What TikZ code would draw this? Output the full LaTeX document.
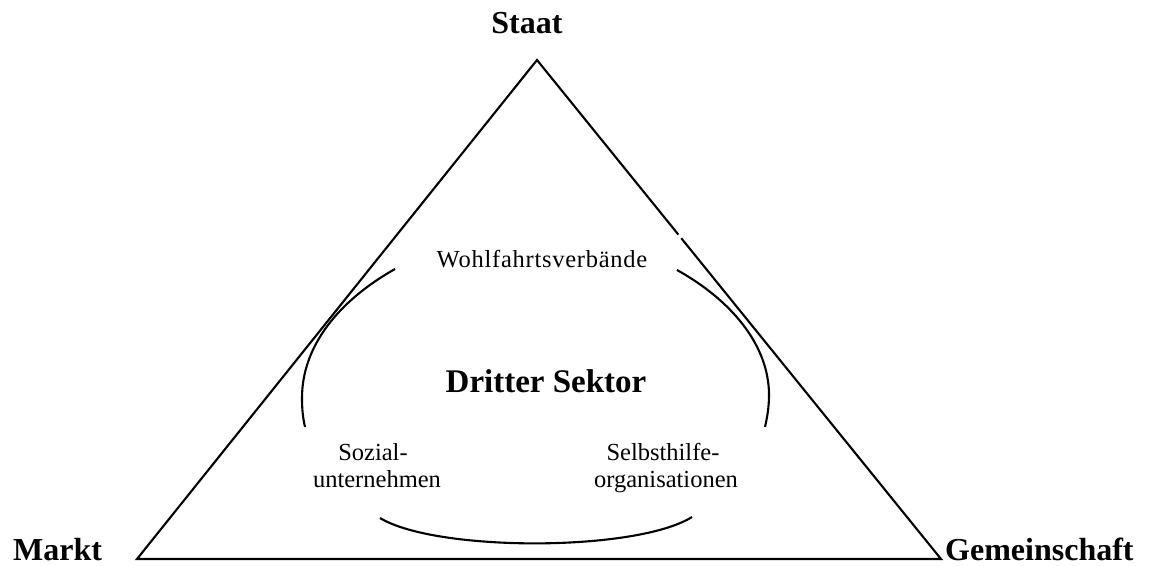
\documentclass[tikz,border=0pt]{standalone}
\usepackage{fontspec}
\setmainfont{Liberation Serif}
\usetikzlibrary{calc}
\begin{document}
\begin{tikzpicture}[x=1pt,y=-1pt,
  edge/.style={line width=2.1pt,line join=miter},
  arcline/.style={line width=2.1pt},
  corner/.style={inner sep=0pt,font=\fontsize{32}{38}\selectfont\bfseries},
  title/.style={inner sep=0pt,font=\fontsize{33}{40}\selectfont\bfseries},
  item/.style={inner sep=0pt,font=\fontsize{24.5}{29}\selectfont}]
\useasboundingbox (0,0) rectangle (1151,565);
% triangle corners
\coordinate (S) at (537,60);
\coordinate (M) at (137,559);
\coordinate (G) at (941,559);
\draw[edge] (S) -- (G) -- (M) -- cycle;
% small break in the right side
\draw[white,line width=3.5pt] ($(S)!0.350!(G)$) -- ($(S)!0.357!(G)$);
% labels at corners
\node[corner,anchor=base] (staat) at (527,33) {Staat};
\node[corner,anchor=base west] (markt) at (13,560) {Markt};
\node[corner,anchor=base west] (gem) at (945,560) {Gemeinschaft};
% oval arcs
\draw[arcline] (395,269) .. controls (340,300) and (302,345) .. (302,398)
                         .. controls (302,410) and (303,418) .. (305,427);
\draw[arcline] (677,270) .. controls (731,300) and (769,345) .. (769,395)
                         .. controls (769,408) and (767,418) .. (765,427);
\draw[arcline] (380,518) .. controls (436,552) and (636,552) .. (692,517);
% texts
\node[item,anchor=base,font=\fontsize{24.5}{29}\addfontfeatures{LetterSpace=3}] (wohl) at (542,267) {Wohlfahrtsverbände};
\node[title,anchor=base] (dritter) at (546,392) {Dritter Sektor};
\node[item,anchor=base] (soz1) at (373,460) {Sozial-};
\node[item,anchor=base] (soz2) at (377,487) {unternehmen};
\node[item,anchor=base] (sel1) at (663,460) {Selbsthilfe-};
\node[item,anchor=base] (sel2) at (666,487) {organisationen};
\end{tikzpicture}
\end{document}
